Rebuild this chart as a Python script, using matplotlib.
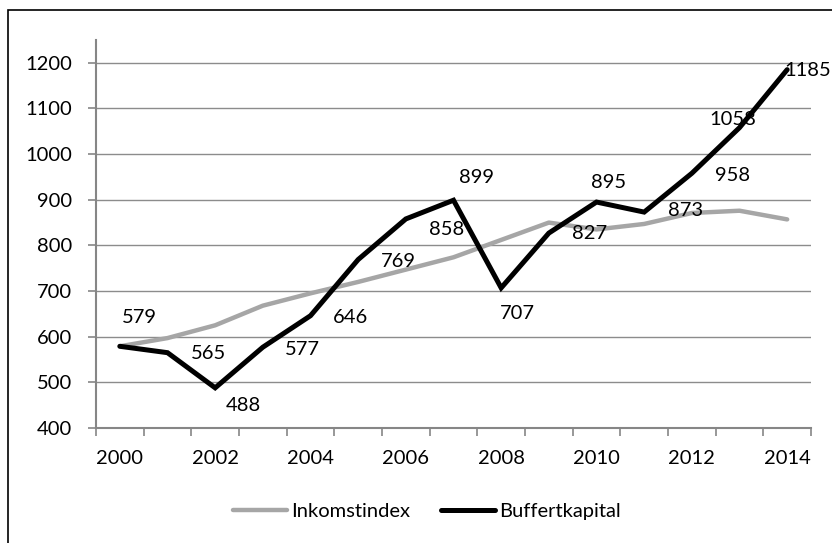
import matplotlib
matplotlib.use('Agg')
import matplotlib.pyplot as plt
from matplotlib.patches import Rectangle

plt.rcParams['font.family'] = ['Lato', 'DejaVu Sans']

years = list(range(2000, 2015))
inkomstindex = [579, 597, 625, 668, 695, 720, 747, 774, 812, 850, 835, 847, 871, 876, 857]
buffertkapital = [579, 565, 488, 577, 646, 769, 858, 899, 707, 827, 895, 873, 958, 1058, 1185]

# where each data label sits relative to its point (pixels, right / down)
label_offsets = [(20, -29), (41, 1), (28, 18), (40, 2), (40, 2), (40, 2), (41, 11),
                 (23, -23), (16, 26), (41, 0), (12, -20), (41, -2), (41, 2), (-7, -8), (21, 1)]

fig = plt.figure(figsize=(8.32, 5.43), dpi=100)
ax = fig.add_axes([96 / 832, 1 - 428 / 543, (811 - 96) / 832, (428 - 40) / 543])

x = list(range(len(years)))
ax.plot(x, inkomstindex, color='#A6A6A6', lw=3.2, solid_joinstyle='round',
        solid_capstyle='round', label='Inkomstindex', zorder=3)
ax.plot(x, buffertkapital, color='black', lw=3.6, solid_joinstyle='miter',
        solid_capstyle='round', label='Buffertkapital', zorder=4)

fs = 14.5
for xi, v, (dx, dy) in zip(x, buffertkapital, label_offsets):
    ax.annotate(str(v), (xi, v), xytext=(dx, -dy), textcoords='offset pixels',
                ha='center', va='center', fontsize=fs, color='black', zorder=5)

ax.set_xlim(-0.5, len(years) - 0.5)
ax.set_ylim(400, 1250)

ax.set_yticks(range(400, 1201, 100))
ax.yaxis.grid(True, color='#8C8C8C', lw=1.0)
ax.set_axisbelow(True)

ax.set_xticks(x[::2])
ax.set_xticklabels([str(y) for y in years[::2]])
ax.set_xticks([i - 0.5 for i in range(len(years) + 1)], minor=True)
ax.tick_params(axis='x', which='major', length=0, pad=16, labelsize=fs)
ax.tick_params(axis='x', which='minor', length=6, width=1.2, color='#868686', direction='out')
ax.tick_params(axis='y', length=6, width=1.2, color='#868686', pad=11, labelsize=fs)

for side in ['top', 'right']:
    ax.spines[side].set_visible(False)
for side in ['left', 'bottom']:
    ax.spines[side].set_color('#868686')
    ax.spines[side].set_linewidth(1.5)

fig.legend(loc='center', bbox_to_anchor=(427 / 832, 1 - 511 / 543), ncol=2, frameon=False,
           fontsize=fs, handlelength=2.7, handletextpad=0.2, columnspacing=1.5)

fig.patches.append(Rectangle((8 / 832, -0.1), 1.2, 1.1 - 10 / 543,
                             transform=fig.transFigure, fill=False, edgecolor='black', lw=1.2))

fig.savefig('out.png', dpi=100)
